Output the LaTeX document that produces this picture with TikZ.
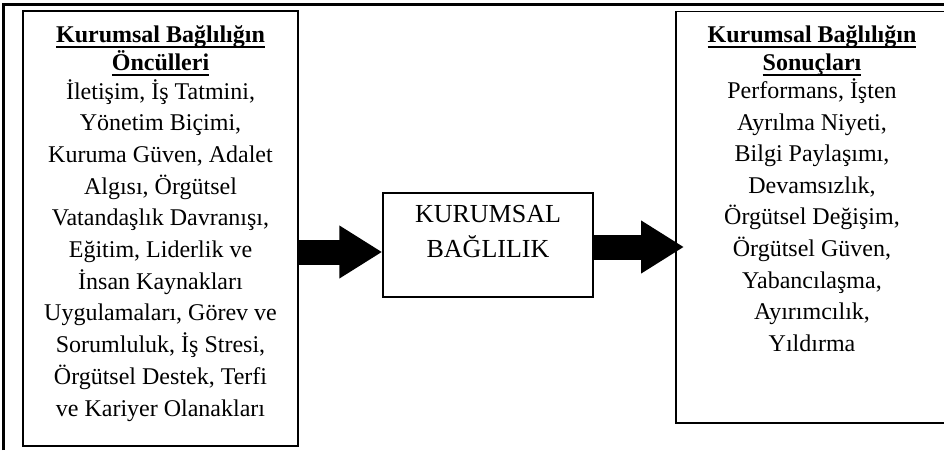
\documentclass[tikz,border=0pt]{standalone}
\usepackage{fontspec}
\setmainfont{Liberation Serif}
\usetikzlibrary{arrows.meta}

\newcommand{\basliksatir}[1]{\setbox0\hbox{\bfseries #1}\leavevmode\rlap{\rule[-5pt]{\wd0}{2pt}}\box0}

\tikzset{
	kutu/.style={draw, line width=1.5pt, inner sep=0pt},
	satir/.style={anchor=base, inner sep=0pt, font=\fontsize{24}{30}\selectfont},
	ortasatir/.style={anchor=base, inner sep=0pt, font=\fontsize{26}{34}\selectfont},
	kalinok/.style={line width=25pt, -{Triangle[length=43pt,width=50pt]}}
}

\begin{document}
\begin{tikzpicture}[x=1pt,y=-1pt]
		\useasboundingbox (0,0) rectangle (944,450);
		\clip (0,0) rectangle (944,450);
		% sayfa cercevesi
		\draw[line width=2.5pt] (3.5,450) -- (3.5,4.5) -- (944,4.5);

		% kutular
		\node[kutu, minimum width=275pt, minimum height=435pt] (onc) at (160.5,228.5) {};
		\node[kutu, minimum width=210pt, minimum height=104pt] (kb) at (488,245) {};
		\node[kutu, minimum width=272pt, minimum height=411.5pt] (son) at (812,217.25) {};

		% onculler
		\node[satir] (onb1) at (160.5,42.7) {\basliksatir{Kurumsal Bağlılığın}};
		\node[satir] (onb2) at (160.5,70.5) {\basliksatir{Öncülleri}};
		\foreach \t [count=\i] in {{İletişim, İş Tatmini,}, {Yönetim Biçimi,}, {Kuruma Güven, Adalet}, {Algısı, Örgütsel}, {Vatandaşlık Davranışı,}, {Eğitim, Liderlik ve}, {İnsan Kaynakları}, {Uygulamaları, Görev ve}, {Sorumluluk, İş Stresi,}, {Örgütsel Destek, Terfi}, {ve Kariyer Olanakları}}
			\node[satir] (on\i) at (160.5,{99+31.7*(\i-1)}) {\t};

		% orta kutu
		\node[ortasatir] (kb1) at (488,222.7) {KURUMSAL};
		\node[ortasatir] (kb2) at (488,257) {BAĞLILIK};

		% sonuclar
		\node[satir] (sob1) at (812,42.7) {\basliksatir{Kurumsal Bağlılığın}};
		\node[satir] (sob2) at (812,70.5) {\basliksatir{Sonuçları}};
		\foreach \t [count=\i] in {{Performans, İşten}, {Ayrılma Niyeti,}, {Bilgi Paylaşımı,}, {Devamsızlık,}, {Örgütsel Değişim,}, {Örgütsel Güven,}, {Yabancılaşma,}, {Ayırımcılık,}, {Yıldırma}}
			\node[satir] (so\i) at (812,{98.5+31.6*(\i-1)}) {\t};

		% oklar
		\coordinate (uc) at (684,247);
		\draw[kalinok] ([yshift=-23.5pt]onc.east) -- ([yshift=-7pt]kb.west);
		\draw[kalinok] ([yshift=-2pt]kb.east) -- (uc);
\end{tikzpicture}
\end{document}
